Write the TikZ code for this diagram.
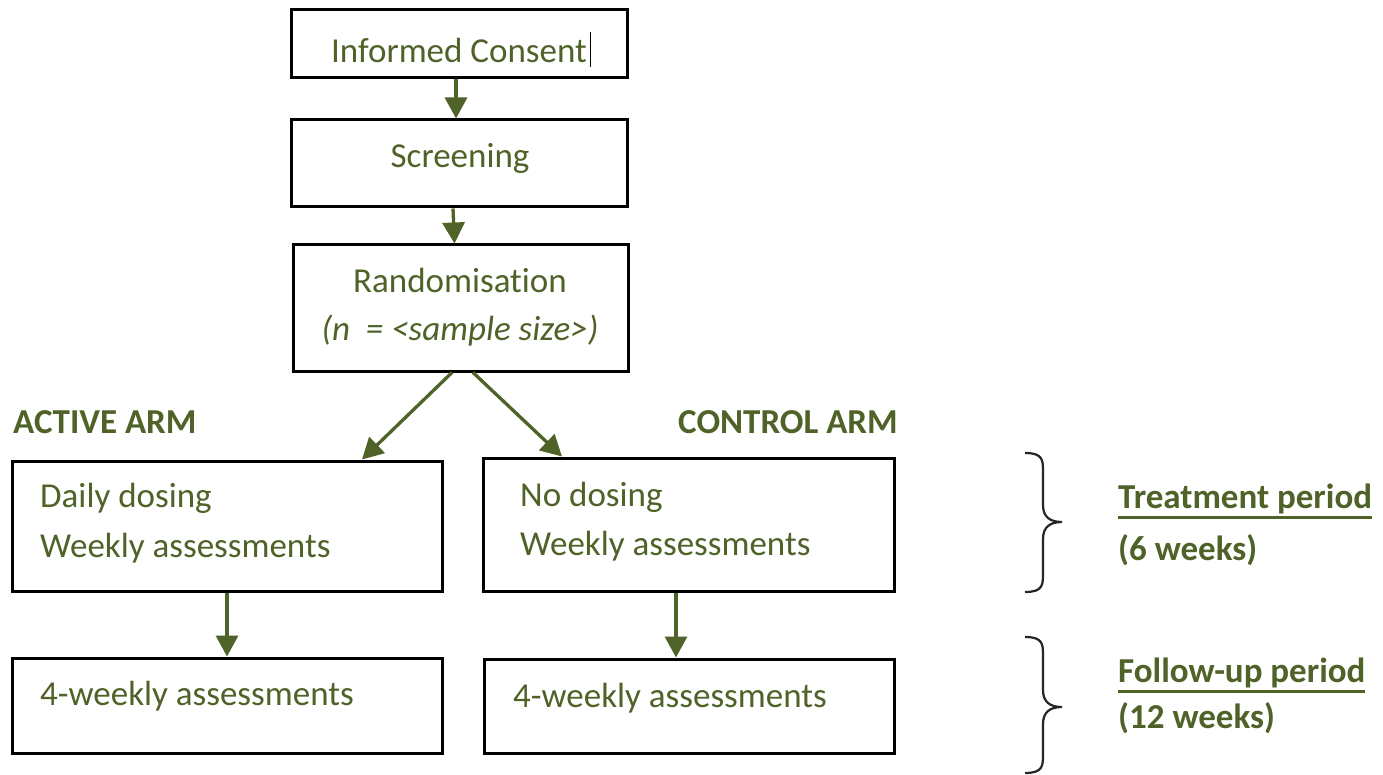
\documentclass[tikz,border=0pt]{standalone}
\usepackage{fontspec}
\setmainfont{Carlito}[Ligatures={NoCommon,NoRare,NoContextual},RawFeature={-liga;-clig;-dlig}]
\usetikzlibrary{arrows.meta}
\definecolor{olive}{RGB}{79,98,40}
\newcommand\myul[1]{\setbox0\hbox{#1}\rlap{\rule[-11pt]{\wd0}{2.8pt}}\box0}
\begin{document}
\begin{tikzpicture}[x=1pt,y=-1pt,
  box/.style={draw=black,line width=3pt,inner sep=0pt,minimum width=#1},
  txt/.style={text=olive,inner sep=0pt,font=\fontsize{35}{42}\selectfont},
  btxt/.style={text=olive,inner sep=0pt,font=\fontsize{35}{42}\selectfont\bfseries},
  arr/.style={draw=olive,line width=3.3pt,-{Triangle[width=22pt,length=21pt]}},
  brace/.style={draw=black!85,line width=2.2pt}]
\useasboundingbox (0,0) rectangle (1383,775);
\fill[white] (0,0) rectangle (1383,775);
% boxes
\node[box=336pt,minimum height=68pt] (b1) at (459,44) {};
\node[box=336pt,minimum height=87pt] (b2) at (459,163.5) {};
\node[box=335pt,minimum height=126pt] (b3) at (460.5,308) {};
\node[box=430pt,minimum height=130pt] (b4) at (227,526) {};
\node[box=411pt,minimum height=133pt] (b5) at (688.5,524.5) {};
\node[box=430pt,minimum height=95pt] (b6) at (227,705.5) {};
\node[box=410pt,minimum height=94pt] (b7) at (689,706) {};
% texts
\node[txt,anchor=base] (t1) at (459,63) {Informed Consent};
\draw[black,line width=1pt] (t1.base east) ++(3,4) coordinate (c1) -- ++(0,-35) coordinate (c2);
\node[txt,anchor=base] (t2) at (460,168) {Screening};
\node[txt,anchor=base] (t3) at (460,293) {Randomisation};
\node[txt,anchor=base] (t3b) at (460,340) {\itshape (n \ = <sample size>)};
\node[btxt,anchor=base west] (la) at (13,433) {ACTIVE ARM};
\node[btxt,anchor=base east] (lc) at (898,433) {CONTROL ARM};
\node[txt,anchor=base west] (t4a) at (40,507) {Daily dosing};
\node[txt,anchor=base west] (t4b) at (40,557) {Weekly assessments};
\node[txt,anchor=base west] (t5a) at (520,506) {No dosing};
\node[txt,anchor=base west] (t5b) at (520,555) {Weekly assessments};
\node[txt,anchor=base west] (t6) at (40,705) {4-weekly assessments};
\node[txt,anchor=base west] (t7) at (513,707) {4-weekly assessments};
\node[btxt,anchor=base west] (p1) at (1118,508) {\myul{Treatment period}};
\node[btxt,anchor=base west] (p1b) at (1118,560) {(6 weeks)};
\node[btxt,anchor=base west] (p2) at (1118,682) {\myul{Follow-up period}};
\node[btxt,anchor=base west] (p2b) at (1118,728) {(12 weeks)};
% connectors
\draw[arr] ([xshift=-3pt]b1.south) -- ([xshift=-3pt]b2.north);
\draw[arr] ([xshift=-6pt]b2.south) -- ([xshift=-6pt]b3.north);
\draw[arr] ([xshift=-8.5pt]b3.south) -- ([xshift=135pt]b4.north);
\draw[arr] ([xshift=12.5pt]b3.south) -- ([xshift=-126.5pt]b5.north);
\draw[arr] (b4.south) -- (b6.north);
\draw[arr] ([xshift=-12.5pt]b5.south) -- ([xshift=-13pt]b7.north);
% braces
\draw[brace] (1025,453) .. controls (1043,453) and (1043,460) .. (1043,472) -- (1043,505)
  .. controls (1043,517) and (1050,522) .. (1062,522)
  .. controls (1050,522) and (1043,527) .. (1043,539) -- (1043,573)
  .. controls (1043,585) and (1043,592) .. (1025,592);
\draw[brace] (1025,637) .. controls (1043,637) and (1043,644) .. (1043,656) -- (1043,690)
  .. controls (1043,702) and (1050,707) .. (1062,707)
  .. controls (1050,707) and (1043,712) .. (1043,724) -- (1043,754)
  .. controls (1043,766) and (1043,773) .. (1025,773);
\end{tikzpicture}
\end{document}
